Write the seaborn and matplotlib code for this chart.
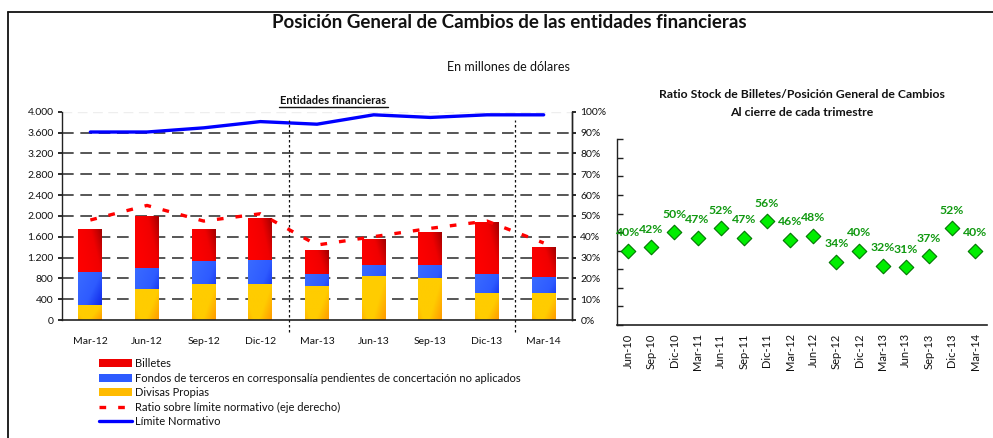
import numpy as np
import pandas as pd
import matplotlib
matplotlib.use("Agg")
import matplotlib.pyplot as plt
import seaborn as sns
from matplotlib.colors import LinearSegmentedColormap
from matplotlib.patches import Patch
from matplotlib.lines import Line2D
from matplotlib.ticker import FuncFormatter, MultipleLocator

# ---------------- data ----------------
quarters = ["Mar-12", "Jun-12", "Sep-12", "Dic-12", "Mar-13", "Jun-13", "Sep-13", "Dic-13", "Mar-14"]
divisas = [290, 600, 700, 700, 650, 850, 810, 520, 520]
fondos = [640, 400, 430, 460, 240, 200, 240, 370, 300]
billetes = [820, 1000, 620, 800, 450, 500, 640, 990, 580]
limite = [3610, 3610, 3690, 3810, 3760, 3940, 3890, 3940, 3940]
ratio = [48, 55, 47.5, 51, 36, 40, 44, 47.5, 37]

ratio_quarters = ["Jun-10", "Sep-10", "Dic-10", "Mar-11", "Jun-11", "Sep-11", "Dic-11", "Mar-12",
                  "Jun-12", "Sep-12", "Dic-12", "Mar-13", "Jun-13", "Sep-13", "Dic-13", "Mar-14"]
ratio_billetes = [40, 42, 50, 47, 52, 47, 56, 46, 48, 34, 40, 32, 31, 37, 52, 40]

legend_labels = ["Billetes",
                 "Fondos de terceros en corresponsalía pendientes de concertación no aplicados",
                 "Divisas Propias",
                 "Ratio sobre límite normativo (eje derecho)",
                 "Límite Normativo"]

# ---------------- style ----------------
sns.set_theme(style="white")
plt.rcParams["font.family"] = ["Lato", "DejaVu Sans"]
plt.rcParams["axes.edgecolor"] = "#222222"

W, H = 993, 438
fig = plt.figure(figsize=(W / 100, H / 100), dpi=100)


def fx(px):
    return px / W


def fy(py):
    return 1 - py / H


# ---------------- left chart ----------------
ax = fig.add_axes([fx(62), fy(320), fx(572) - fx(62), fy(111.7) - fy(320)])

df = pd.DataFrame({"q": quarters, "div": divisas, "fon": fondos, "bil": billetes})
df["c2"] = df["div"] + df["fon"]
df["c3"] = df["c2"] + df["bil"]
idx = np.arange(len(quarters))

layers = []
for col, color in [("c3", "#FF0000"), ("c2", "#3366FF"), ("div", "#FFCC00")]:
    n0 = len(ax.patches)
    sns.barplot(data=df, x="q", y=col, color=color, width=0.42, ax=ax,
                saturation=1, edgecolor="none", order=quarters, zorder=2)
    layers.append(list(ax.patches)[n0:])

grad_specs = [
    ("#FF0000", "#F00000", "#A00000"),
    ("#3A6BFF", "#2E5BFF", "#0010E0"),
    ("#FF9A00", "#FFCC00", "#FFCC00"),
]
yy, xx = np.mgrid[0:1:60j, 0:1:30j]
for li, (patches, (c1, c2, c3)) in enumerate(zip(layers, grad_specs)):
    cmap = LinearSegmentedColormap.from_list("g", [c1, c2, c3])
    for p in patches:
        x0, y0 = p.get_xy()
        w, h = p.get_width(), p.get_height()
        if li == 0:
            Z = np.clip((xx + yy) / 2, 0, 1) ** 2.5
        elif li == 1:
            Z = np.clip((xx + (1 - yy)) / 2, 0, 1)
        else:
            Z = np.clip(1.0 - np.abs(xx - 0.35) * 0.9 - (1 - yy) * 0.5 + 0.1, 0, 1)
        im = ax.imshow(Z, cmap=cmap, extent=[x0, x0 + w, y0, y0 + h], origin="lower",
                       aspect="auto", zorder=2.5, interpolation="bilinear")
        im.set_clip_path(p)

ax.set_xlim(-0.5, len(quarters) - 0.5)
ax.set_ylim(0, 4000)
ax.set_xlabel("")
ax.set_ylabel("")
ax.yaxis.set_major_locator(MultipleLocator(400))
ax.yaxis.set_major_formatter(FuncFormatter(lambda v, p: f"{int(v):,}".replace(",", ".")))
ax.set_xticks(idx)
ax.set_xticklabels(quarters)
ax.set_xticks(np.arange(-0.5, len(quarters), 1), minor=True)
ax.tick_params(axis="x", which="major", length=0, labelsize=7.5, pad=12, colors="#111111")
ax.tick_params(axis="x", which="minor", length=4, direction="in", width=1, color="#222222")
ax.tick_params(axis="y", which="major", length=3, direction="out", labelsize=7.5, pad=3,
               left=True, colors="#111111")
for v in range(400, 4000, 400):
    ax.axhline(v, color="#3a3a3a", lw=1.2, ls=(0, (7, 4)), zorder=1)
ax.axhline(4000, color="#EEEEEE", lw=1.0, ls=(0, (7, 4)), zorder=1)
ax.spines["top"].set_visible(False)
ax.spines["left"].set_linewidth(1.0)
ax.spines["bottom"].set_linewidth(1.2)
ax.spines["right"].set_linewidth(1.0)

sns.lineplot(x=idx, y=limite, ax=ax, color="#0000FF", lw=2.4, zorder=4, legend=False)

for xb in [3.5, 7.5]:
    ax.axvline(xb, ymin=-0.058, ymax=0.96, color="#111111", lw=0.9, ls=(0, (2, 2)),
               clip_on=False, zorder=5)

ax2 = ax.twinx()
sns.lineplot(x=idx, y=ratio, ax=ax2, color="#FF0000", lw=2.4, zorder=4, legend=False)
ax2.lines[0].set_linestyle((0, (2.0, 3.6)))
ax2.set_ylim(0, 100)
ax2.set_xlim(-0.5, len(quarters) - 0.5)
ax2.yaxis.set_major_locator(MultipleLocator(10))
ax2.yaxis.set_major_formatter(FuncFormatter(lambda v, p: f"{int(v)}%"))
ax2.tick_params(axis="y", length=3, direction="out", labelsize=7.5, pad=3, right=True,
                colors="#111111")
ax2.set_ylabel("")
for s in ["top", "left", "bottom"]:
    ax2.spines[s].set_visible(False)
ax2.spines["right"].set_linewidth(1.0)

fig.text(fx(333.5), fy(101), "Entidades financieras", ha="center", va="center",
         fontsize=8, fontweight="bold", color="#111111")
fig.add_artist(Line2D([fx(279), fx(388)], [fy(107), fy(107)], color="#111111", lw=1))

# ---------------- right chart ----------------
axr = fig.add_axes([fx(616.7), fy(325), fx(986.6) - fx(616.7), fy(139.3) - fy(325)])
ridx = np.arange(len(ratio_quarters))
sns.scatterplot(x=ridx, y=ratio_billetes, ax=axr, marker="D", s=55, color="#00EE00",
                edgecolor="#007700", linewidth=0.8, zorder=3, legend=False)
for i, v in enumerate(ratio_billetes):
    axr.annotate(f"{v}%", (i, v), xytext=(0, 9), textcoords="offset points", ha="center",
                 va="bottom", fontsize=8.8, fontweight="bold", color="#119911")
axr.set_xlim(-0.5, len(ratio_quarters) - 0.5)
axr.set_ylim(0, 100)
axr.yaxis.set_major_locator(MultipleLocator(10))
axr.set_yticklabels([])
axr.set_xticks(ridx)
axr.set_xticklabels(ratio_quarters, rotation=90)
axr.set_xticks(np.arange(-0.5, len(ratio_quarters), 1), minor=True)
axr.tick_params(axis="x", which="major", length=0, labelsize=8, pad=6, colors="#111111")
axr.tick_params(axis="x", which="minor", length=4, direction="in", width=1, color="#222222")
axr.tick_params(axis="y", length=4, direction="in", left=True, width=1, color="#222222")
axr.set_xlabel("")
axr.set_ylabel("")
for s in ["top", "right"]:
    axr.spines[s].set_visible(False)
axr.spines["left"].set_linewidth(1.0)
axr.spines["bottom"].set_linewidth(1.2)

fig.text(fx(801.5), fy(95), "Ratio Stock de Billetes/Posición General de Cambios",
         ha="center", va="center", fontsize=8.8, fontweight="bold", color="#111111")
fig.text(fx(801.5), fy(112), "Al cierre de cada trimestre", ha="center", va="center",
         fontsize=8.8, fontweight="bold", color="#111111")

# ---------------- titles, frame, legend ----------------
fig.text(fx(509), fy(22), "Posición General de Cambios de las entidades financieras",
         ha="center", va="center", fontsize=13.5, fontweight="bold", color="#111111")
fig.text(fx(508), fy(67), "En millones de dólares", ha="center", va="center",
         fontsize=9, color="#111111")
fig.add_artist(Line2D([fx(8), 1.0], [fy(12), fy(12)], color="#111111", lw=1.3))
fig.add_artist(Line2D([fx(8), fx(8)], [0, fy(12)], color="#111111", lw=1.3))

handles = [Patch(facecolor="#EE0000", edgecolor="none"),
           Patch(facecolor="#2E5BFF", edgecolor="none"),
           Patch(facecolor="#FFBB00", edgecolor="none"),
           Line2D([0], [0], color="#FF0000", lw=2.4, ls=(0, (2.0, 3.6))),
           Line2D([0], [0], color="#0000FF", lw=2.4)]
fig.legend(handles, legend_labels, loc="upper left", bbox_to_anchor=(fx(99), fy(358)),
           frameon=False, fontsize=8, handlelength=3.0, handletextpad=0.25,
           labelspacing=0.32, borderpad=0, borderaxespad=0, labelcolor="#111111")

fig.savefig("out.png", dpi=100)
